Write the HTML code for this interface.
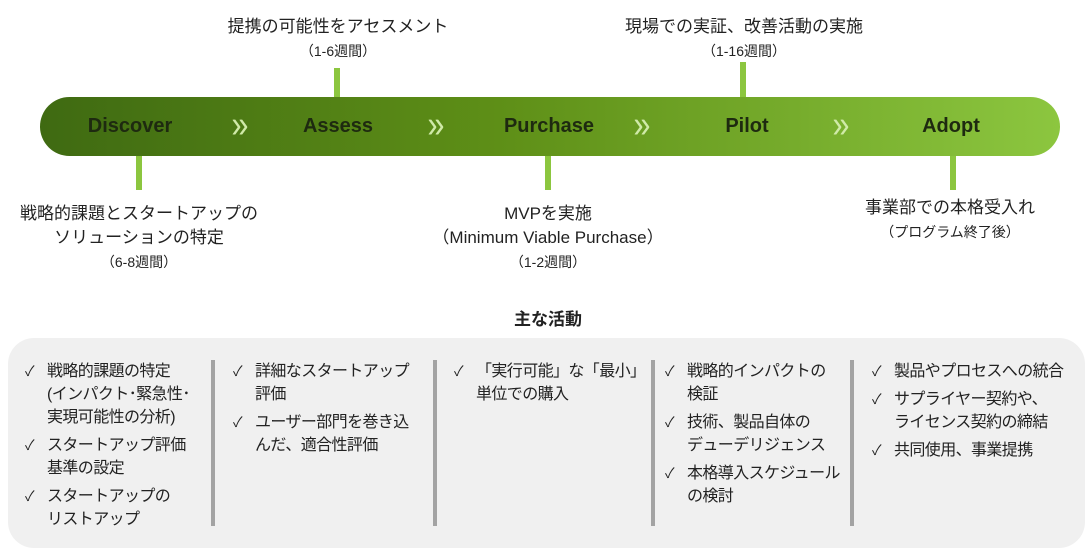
<!DOCTYPE html>
<html><head><meta charset="utf-8"><style>
body{margin:0;width:1092px;height:554px;background:#fff;position:relative;overflow:hidden;font-family:"Liberation Sans","Noto Sans CJK JP",sans-serif;color:#222}
.a{position:absolute}
.bar{left:40px;top:97px;width:1020px;height:59px;border-radius:30px;background:linear-gradient(90deg,#3f6a12,#5e8f17 45%,#8cc63f)}
.st{position:absolute;top:97px;height:59px;line-height:59px;font-weight:bold;font-size:20px;color:#1e2a10;transform:translateX(-50%)}
.ch{position:absolute;top:97px;height:59px;line-height:56px;font-size:38px;color:#d0eaa8;transform:translateX(-50%) scaleX(0.8)}
.vl{position:absolute;width:6px;background:#8cc63f}
.lb{position:absolute;text-align:center;font-size:17px;line-height:24px;transform:translateX(-50%);white-space:nowrap}
.sm{font-size:14px}
.box{left:8px;top:338px;width:1077px;height:210px;background:#f0f0f0;border-radius:26px}
.dv{position:absolute;top:360px;height:166px;width:4px;background:#a3a3a3}
.col{position:absolute;top:360px;font-size:16px;line-height:23px;letter-spacing:-0.6px}
.it{position:relative;padding-left:22px;margin-bottom:5px;white-space:nowrap}
.it:before{content:"✓";position:absolute;left:0;top:0;font-size:14px}
</style></head><body>
<div class="a bar"></div>
<div class="st" style="left:130px">Discover</div>
<div class="st" style="left:338px">Assess</div>
<div class="st" style="left:549px">Purchase</div>
<div class="st" style="left:747px">Pilot</div>
<div class="st" style="left:951px">Adopt</div>
<div class="ch" style="left:240px">»</div>
<div class="ch" style="left:436px">»</div>
<div class="ch" style="left:642px">»</div>
<div class="ch" style="left:841px">»</div>
<div class="vl" style="left:136px;top:156px;height:34px"></div>
<div class="vl" style="left:334px;top:68px;height:29px"></div>
<div class="vl" style="left:545px;top:156px;height:34px"></div>
<div class="vl" style="left:740px;top:62px;height:35px"></div>
<div class="vl" style="left:950px;top:156px;height:34px"></div>
<div class="lb" style="left:338px;top:15px">提携の可能性をアセスメント<br><span class="sm">（1-6週間）</span></div>
<div class="lb" style="left:744px;top:15px">現場での実証、改善活動の実施<br><span class="sm">（1-16週間）</span></div>
<div class="lb" style="left:139px;top:202px">戦略的課題とスタートアップの<br>ソリューションの特定<br><span class="sm">（6-8週間）</span></div>
<div class="lb" style="left:548px;top:202px">MVPを実施<br>（Minimum Viable Purchase）<br><span class="sm">（1-2週間）</span></div>
<div class="lb" style="left:950px;top:196px">事業部での本格受入れ<br><span class="sm">（プログラム終了後）</span></div>
<div class="lb" style="left:548px;top:308px;font-weight:bold">主な活動</div>
<div class="a box"></div>
<div class="dv" style="left:211px"></div>
<div class="dv" style="left:433px"></div>
<div class="dv" style="left:651px"></div>
<div class="dv" style="left:850px"></div>
<div class="col" style="left:25px"><div class="it">戦略的課題の特定<br>(インパクト･緊急性･<br>実現可能性の分析)</div><div class="it">スタートアップ評価<br>基準の設定</div><div class="it">スタートアップの<br>リストアップ</div></div>
<div class="col" style="left:233px"><div class="it">詳細なスタートアップ<br>評価</div><div class="it">ユーザー部門を巻き込<br>んだ、適合性評価</div></div>
<div class="col" style="left:454px"><div class="it">「実行可能」な「最小」<br>単位での購入</div></div>
<div class="col" style="left:665px"><div class="it">戦略的インパクトの<br>検証</div><div class="it">技術、製品自体の<br>デューデリジェンス</div><div class="it">本格導入スケジュール<br>の検討</div></div>
<div class="col" style="left:872px"><div class="it">製品やプロセスへの統合</div><div class="it">サプライヤー契約や、<br>ライセンス契約の締結</div><div class="it">共同使用、事業提携</div></div>
</body></html>
